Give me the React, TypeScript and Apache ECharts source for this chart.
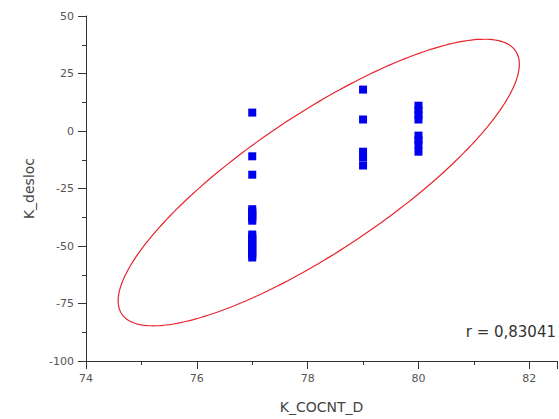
import React, { useEffect, useRef } from "react";
import * as echarts from "echarts";

// Observations grouped by K_COCNT_D value
const x77: number[] = [8, -11, -19, -34, -35, -36, -37, -38, -39, -45, -46, -47, -48, -49, -50, -51, -52, -53, -54, -55];
const x79: number[] = [18, 5, -9, -11.5, -15];
const x80: number[] = [11, 9, 7, 5, -2, -4, -6, -9];

const xTicks: number[] = [74, 76, 78, 80, 82];
const yTicks: number[] = [-100, -75, -50, -25, 0, 25, 50];

// Confidence ellipse: centre, half-extents along each axis and phase between them
const ellipseCenter: [number, number] = [78.2, -22.4];
const ellipseHalfX = 3.62;
const ellipseHalfY = 62.3;
const ellipsePhase = 0.6;
const ellipseSteps = 240;

const correlationLabel = "r = 0,83041";

function buildPoints(): [number, number][] {
  const pts: [number, number][] = [];
  x77.forEach((v) => pts.push([77, v]));
  x79.forEach((v) => pts.push([79, v]));
  x80.forEach((v) => pts.push([80, v]));
  return pts;
}

function buildEllipse(): [number, number][] {
  const out: [number, number][] = [];
  for (let i = 0; i <= ellipseSteps; i++) {
    const t = (i / ellipseSteps) * Math.PI * 2;
    out.push([
      ellipseCenter[0] + ellipseHalfX * Math.cos(t),
      ellipseCenter[1] + ellipseHalfY * Math.cos(t - ellipsePhase),
    ]);
  }
  return out;
}

export default function App() {
  const ref = useRef<HTMLDivElement>(null);

  useEffect(() => {
    document.body.style.margin = "0";
    if (!ref.current) return;
    const chart = echarts.init(ref.current, null, { renderer: "svg" });
    const font = "'DejaVu Sans', Arial, sans-serif";
    chart.setOption({
      animation: false,
      backgroundColor: "#ffffff",
      grid: { left: 86, top: 16, right: 2, bottom: 58 },
      xAxis: {
        type: "value",
        min: 74,
        max: 82.5,
        interval: 2,
        name: "K_COCNT_D",
        nameLocation: "middle",
        nameGap: 39,
        nameTextStyle: { fontFamily: font, fontSize: 14, color: "#444" },
        axisLine: { show: true, onZero: false, lineStyle: { color: "#333", width: 1 } },
        axisTick: { show: true, length: 8, lineStyle: { color: "#333" } },
        minorTick: { show: true, splitNumber: 2, length: 4, lineStyle: { color: "#333" } },
        splitLine: { show: false },
        axisLabel: {
          fontFamily: font,
          fontSize: 11,
          color: "#555",
          margin: 12,
          showMaxLabel: false,
          formatter: (v: number) => (xTicks.includes(v) ? String(v) : ""),
        },
      },
      yAxis: {
        type: "value",
        min: -100,
        max: 50,
        interval: 25,
        name: "K_desloc",
        nameLocation: "middle",
        nameGap: 50,
        nameTextStyle: { fontFamily: font, fontSize: 14, color: "#444" },
        axisLine: { show: true, onZero: false, lineStyle: { color: "#333", width: 1 } },
        axisTick: { show: true, length: 8, lineStyle: { color: "#333" } },
        minorTick: { show: true, splitNumber: 2, length: 4, lineStyle: { color: "#333" } },
        splitLine: { show: false },
        axisLabel: {
          fontFamily: font,
          fontSize: 11,
          color: "#555",
          margin: 12,
          formatter: (v: number) => (yTicks.includes(v) ? String(v) : ""),
        },
      },
      graphic: [
        {
          type: "text",
          right: 3,
          top: 324,
          style: { text: correlationLabel, fontFamily: font, fontSize: 15, fill: "#333" },
        },
      ],
      series: [
        {
          type: "line",
          data: buildEllipse(),
          showSymbol: false,
          smooth: false,
          lineStyle: { color: "#e8242c", width: 1.2 },
          z: 2,
        },
        {
          type: "scatter",
          data: buildPoints(),
          symbol: "rect",
          symbolSize: 8,
          itemStyle: { color: "#0000f0", opacity: 1 },
          z: 3,
        },
      ],
    });
    return () => chart.dispose();
  }, []);

  return <div ref={ref} style={{ width: 559, height: 419 }} />;
}
